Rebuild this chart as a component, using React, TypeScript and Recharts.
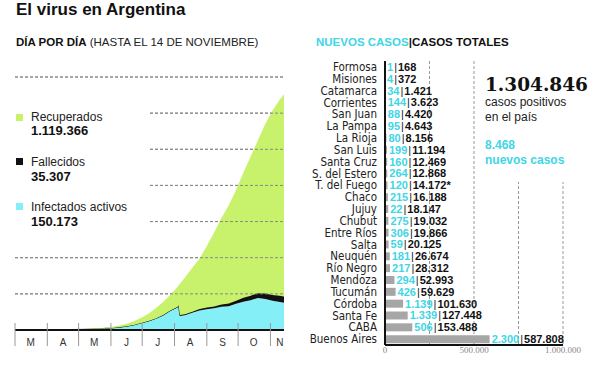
import React from 'react'
import { AreaChart, Area, XAxis, YAxis, CartesianGrid, ReferenceLine, BarChart, Bar, LabelList } from 'recharts'

// days since 1 March 2020
const DAYS = [2, 9, 16, 23, 30, 37, 44, 51, 58, 65, 72, 79, 86, 93, 100, 107, 114, 121, 128, 135, 142, 149, 156, 157, 158, 163, 170, 177, 184, 191, 198, 205, 212, 219, 226, 233, 240, 247, 254, 258]
const ACTIVE = [1, 17, 75, 350, 750, 1100, 1500, 2000, 2700, 3200, 4200, 5800, 8500, 11000, 14500, 20000, 27000, 38000, 48000, 62000, 80000, 105000, 125000, 133000, 78000, 82000, 95000, 108000, 115000, 120000, 128000, 132000, 145000, 156000, 165000, 177000, 172000, 162000, 155000, 150173]
const DEATHS = [0, 0, 2, 6, 27, 60, 100, 140, 190, 260, 320, 390, 480, 550, 690, 830, 980, 1280, 1580, 2000, 2500, 3200, 4250, 4400, 4500, 5100, 6100, 7600, 9000, 10600, 12700, 15000, 17500, 22700, 24600, 26700, 29300, 31600, 34200, 35307]
const RECOVERED = [0, 0, 2, 31, 277, 468, 677, 891, 1237, 1560, 2043, 2619, 3648, 6450, 9810, 14170, 20020, 28720, 40420, 56000, 72500, 86800, 110750, 109600, 172500, 202900, 243900, 279400, 341000, 409400, 479300, 543000, 612500, 691300, 770400, 846300, 938700, 1021400, 1085800, 1119366]

const MONTH_STARTS = [0, 31, 61, 92, 122, 153, 184, 214, 245]
const MONTH_MIDS = [15, 46, 76, 107, 137, 168, 199, 229, 254]
const MONTH_LABELS = ['M', 'A', 'M', 'J', 'J', 'A', 'S', 'O', 'N']
const AREA_GRID = [200000, 400000, 600000, 800000, 1000000, 1200000, 1400000]

const PROVINCES = ['Formosa', 'Misiones', 'Catamarca', 'Corrientes', 'San Juan', 'La Pampa', 'La Rioja', 'San Luis', 'Santa Cruz', 'S. del Estero', 'T. del Fuego', 'Chaco', 'Jujuy', 'Chubut', 'Entre Ríos', 'Salta', 'Neuquén', 'Río Negro', 'Mendoza', 'Tucumán', 'Córdoba', 'Santa Fe', 'CABA', 'Buenos Aires']
const NEW_CASES = [1, 4, 34, 144, 88, 95, 80, 199, 160, 264, 120, 215, 22, 275, 306, 59, 181, 217, 294, 426, 1139, 1339, 506, 2300]
const TOTAL_CASES = [168, 372, 1421, 3623, 4420, 4643, 8156, 11194, 12469, 12868, 14172, 16188, 18147, 19032, 19866, 20125, 26674, 28312, 52993, 59629, 101630, 127448, 153488, 587808]
const TOTAL_NOTES = ['', '', '', '', '', '', '', '', '', '', '*', '', '', '', '', '', '', '', '', '', '', '', '', '']
const BAR_TICKS = [0, 250000, 500000, 750000, 1000000]
const BAR_LABELLED = [0, 500000, 1000000]

const SANS = '"Liberation Sans", Arial, sans-serif'
const NARROW = '"Liberation Sans Narrow", "DejaVu Sans Condensed", sans-serif'
const SERIF = '"Liberation Serif", serif'
const GREEN = '#c8f26c'
const CYAN = '#85eff7'
const CYAN_TEXT = '#40d6e6'
const BLACK = '#111'

const fmt = (n: number) => String(n).replace(/\B(?=(\d{3})+(?!\d))/g, '.')

const areaData = DAYS.map((day, i) => ({ day, active: ACTIVE[i], deaths: DEATHS[i], recovered: RECOVERED[i] }))
const barData = PROVINCES.map((name, i) => ({ name, total: TOTAL_CASES[i] }))

function MonthTick(props: any) {
  const { x, y, payload } = props
  const i = MONTH_STARTS.indexOf(payload.value)
  if (i >= 0) return <line x1={x} x2={x} y1={y - 7} y2={y + 16} stroke="#999" strokeWidth={1} />
  const j = MONTH_MIDS.indexOf(payload.value)
  return (
    <text x={x} y={y + 16} textAnchor="middle" fontFamily={SANS} fontSize={10} fill="#333">
      {MONTH_LABELS[j]}
    </text>
  )
}

function ProvinceTick(props: any) {
  const { x, y, payload } = props
  return (
    <text x={x} y={y} dy="0.36em" textAnchor="end" fontFamily={NARROW} fontSize={11.5} fill="#222">
      {payload.value}
    </text>
  )
}

function ScaleTick(props: any) {
  const { x, y, payload } = props
  if (!BAR_LABELLED.includes(payload.value)) return null
  return (
    <text x={x} y={y} dy="0.71em" textAnchor="middle" fontFamily={SERIF} fontSize={9} fill="#888">
      {fmt(payload.value)}
    </text>
  )
}

function CasesLabel(props: any) {
  const { x, y, width, height, index } = props
  return (
    <text x={x + width + 2} y={y + height / 2} dy="0.36em" fontFamily={SANS} fontSize={11} fontWeight="bold">
      <tspan fill={CYAN_TEXT}>{fmt(NEW_CASES[index])}</tspan>
      <tspan fill="#222" fontWeight="normal" dx={1}>|</tspan>
      <tspan fill={BLACK} dx={1}>{fmt(TOTAL_CASES[index])}{TOTAL_NOTES[index]}</tspan>
    </text>
  )
}

export default function App() {
  return (
    <div style={{ position: 'fixed', left: 0, top: 0, width: 600, height: 365, background: '#fff', overflow: 'hidden' }}>
      <div style={{ position: 'absolute', left: 0, top: 0 }}>
        <AreaChart width={300} height={365} data={areaData} margin={{ top: 77, right: 16, bottom: 5, left: 15 }}>
          <CartesianGrid vertical={false} stroke="#888" strokeWidth={1} strokeDasharray="3 2" />
          <YAxis hide domain={[0, 1400000]} ticks={[0, ...AREA_GRID]} />
          <XAxis
            dataKey="day"
            type="number"
            domain={[0, 258]}
            ticks={[...MONTH_STARTS, ...MONTH_MIDS]}
            interval={0}
            height={30}
            tickSize={0}
            tickMargin={0}
            axisLine={{ stroke: BLACK, strokeWidth: 2 }}
            tickLine={false}
            tick={<MonthTick />}
          />
          {AREA_GRID.map(v => (
            <ReferenceLine key={v} y={v} stroke="#888" strokeWidth={1} strokeDasharray="3 2" ifOverflow="extendDomain" />
          ))}
          <Area type="linear" dataKey="active" stackId="a" fill={CYAN} fillOpacity={1} stroke="none" isAnimationActive={false} />
          <Area type="linear" dataKey="deaths" stackId="a" fill={BLACK} fillOpacity={1} stroke={BLACK} strokeWidth={1} isAnimationActive={false} />
          <Area type="linear" dataKey="recovered" stackId="a" fill={GREEN} fillOpacity={1} stroke="none" isAnimationActive={false} />
        </AreaChart>
      </div>

      <div style={{ position: 'absolute', left: 300, top: 0 }}>
        <BarChart width={300} height={365} data={barData} layout="vertical" margin={{ top: 61, right: 37, bottom: 0, left: 0 }}>
          <CartesianGrid horizontal={false} stroke="#999" strokeWidth={1} strokeDasharray="3 2" />
          <XAxis
            type="number"
            domain={[0, 1000000]}
            ticks={BAR_TICKS}
            interval={0}
            height={20}
            axisLine={{ stroke: BLACK, strokeWidth: 2 }}
            tickLine={false}
            tickSize={2}
            tickMargin={0}
            tick={<ScaleTick />}
          />
          <YAxis
            type="category"
            dataKey="name"
            width={85}
            interval={0}
            axisLine={{ stroke: BLACK, strokeWidth: 2 }}
            tickLine={false}
            tick={<ProvinceTick />}
          />
          <Bar dataKey="total" fill="#a6a6a6" barSize={8} isAnimationActive={false}>
            <LabelList dataKey="total" content={<CasesLabel />} />
          </Bar>
        </BarChart>
      </div>

      <svg width={600} height={365} style={{ position: 'absolute', left: 0, top: 0, pointerEvents: 'none' }}>
        <rect x={0} y={98} width={150} height={134} fill="#fff" />
        <rect x={480} y={55} width={120} height={127} fill="#fff" />

        <text x={16} y={15} fontFamily={SANS} fontSize={17} fontWeight="bold" fill={BLACK}>El virus en Argentina</text>
        <text x={16} y={46} fontFamily={SANS} fontSize={11.5} fill="#222">
          <tspan fontWeight="bold" fill={BLACK}>DÍA POR DÍA</tspan> (HASTA EL 14 DE NOVIEMBRE)
        </text>
        <text x={316} y={46} fontFamily={SANS} fontSize={11.5} fontWeight="bold">
          <tspan fill={CYAN_TEXT}>NUEVOS CASOS</tspan>
          <tspan fill={BLACK}>|CASOS TOTALES</tspan>
        </text>

        <rect x={16} y={114} width={7} height={7} fill={GREEN} />
        <text x={31} y={121} fontFamily={SANS} fontSize={12} fill="#222">Recuperados</text>
        <text x={31} y={135} fontFamily={SANS} fontSize={13} fontWeight="bold" fill={BLACK}>1.119.366</text>
        <rect x={16} y={158} width={7} height={7} fill={BLACK} />
        <text x={31} y={165.7} fontFamily={SANS} fontSize={12} fill="#222">Fallecidos</text>
        <text x={31} y={180.7} fontFamily={SANS} fontSize={13} fontWeight="bold" fill={BLACK}>35.307</text>
        <rect x={16} y={203} width={7} height={7} fill={CYAN} />
        <text x={31} y={210.7} fontFamily={SANS} fontSize={12} fill="#222">Infectados activos</text>
        <text x={31} y={225.7} fontFamily={SANS} fontSize={13} fontWeight="bold" fill={BLACK}>150.173</text>

        <text x={485} y={90.7} fontFamily={'"DejaVu Serif", serif'} fontSize={18.5} fontWeight="bold" fill={BLACK}>1.304.846</text>
        <text x={485} y={105.5} fontFamily={SANS} fontSize={12} fill="#222">casos positivos</text>
        <text x={485} y={120.5} fontFamily={SANS} fontSize={12} fill="#222">en el país</text>
        <text x={485} y={149.3} fontFamily={SANS} fontSize={12} fontWeight="bold" fill={CYAN_TEXT}>8.468</text>
        <text x={485} y={164} fontFamily={SANS} fontSize={12} fontWeight="bold" fill={CYAN_TEXT}>nuevos casos</text>
      </svg>
    </div>
  )
}
